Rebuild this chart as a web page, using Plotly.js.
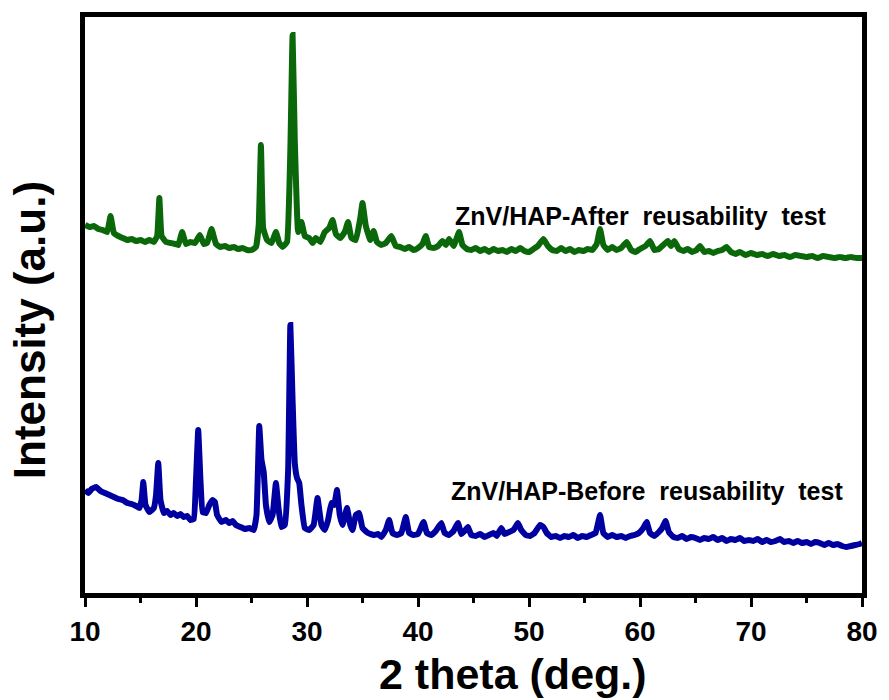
<!DOCTYPE html>
<html>
<head>
<meta charset="utf-8">
<script src="https://cdn.plot.ly/plotly-3.0.1.min.js"></script>
<style>html,body{margin:0;padding:0;background:#fff;}#chart{width:889px;height:700px;}</style>
</head>
<body>
<div id="chart"></div>
<script>
// 2-theta positions and intensities (a.u., offset-stacked)
const afterTheta = [10.0,10.4,10.8,11.2,11.6,12.0,12.3,12.6,13.0,13.4,13.8,14.2,14.6,15.0,15.4,15.8,16.2,16.5,16.7,16.9,17.3,17.7,18.1,18.4,18.75,19.1,19.5,19.9,20.35,20.7,21.0,21.4,21.8,22.2,22.6,23.0,23.4,23.8,24.2,24.6,25.0,25.4,25.65,25.85,26.05,26.4,26.8,27.2,27.5,27.8,28.2,28.5,28.7,28.9,29.2,29.5,29.8,30.2,30.5,30.8,31.2,31.6,32.0,32.3,32.6,33.0,33.4,33.7,34.0,34.4,34.8,35.0,35.3,35.7,36.0,36.3,36.7,37.1,37.6,38.0,38.4,38.8,39.2,39.6,40.0,40.4,40.7,41.0,41.4,41.8,42.2,42.5,42.8,43.2,43.7,44.0,44.4,44.8,45.2,45.6,46.0,46.4,46.8,47.2,47.6,48.0,48.4,48.8,49.2,49.6,50.0,50.4,50.8,51.3,51.7,52.1,52.5,52.9,53.3,53.7,54.1,54.5,54.9,55.3,55.7,56.1,56.4,56.7,57.1,57.5,57.9,58.3,58.8,59.2,59.6,60.0,60.5,60.9,61.3,61.7,62.1,62.5,62.8,63.1,63.5,63.9,64.3,64.7,65.1,65.4,65.8,66.2,66.6,67.0,67.4,67.8,68.2,68.6,69.0,69.5,70.0,70.5,71.0,71.5,72.0,72.5,73.0,73.5,74.0,74.5,75.0,75.5,76.0,76.5,77.0,77.5,78.0,78.5,79.0,79.5,80.0];
const afterIntensity = [375,373,374,371,370,368,384,367,364,362,360,361,359,360,358,360,358,364,402,364,358,357,356,355,368,356,358,357,365,356,357,371,356,353,354,352,353,351,352,350,350,353,375,455,372,360,357,368,357,353,358,450,565,460,368,378,364,362,357,362,358,368,372,380,366,362,368,378,362,360,382,397,374,360,369,358,355,357,364,354,353,351,353,350,352,356,364,353,352,354,359,355,361,354,368,355,351,350,352,349,351,348,351,349,350,348,351,349,352,349,348,351,354,361,354,350,349,352,349,351,348,350,349,351,350,356,371,355,350,353,350,352,358,350,348,351,354,359,350,351,355,359,354,359,351,349,351,348,350,354,348,349,347,349,350,353,348,346,348,345,347,345,346,344,346,344,345,343,345,344,343,344,342,344,343,342,343,342,343,342,342];

const beforeTheta = [10.0,10.3,10.6,11.0,11.4,11.8,12.2,12.6,13.0,13.4,13.8,14.2,14.6,14.9,15.1,15.25,15.45,15.8,16.2,16.4,16.6,16.8,17.1,17.4,17.7,18.0,18.3,18.6,18.9,19.2,19.5,19.8,20.0,20.2,20.4,20.6,20.9,21.2,21.5,21.7,21.9,22.3,22.7,23.0,23.3,23.6,24.0,24.4,24.8,25.2,25.45,25.7,25.9,26.1,26.3,26.6,26.9,27.2,27.45,27.7,28.0,28.3,28.5,28.7,28.9,29.1,29.3,29.5,29.8,30.2,30.6,30.95,31.3,31.6,31.9,32.2,32.45,32.7,32.95,33.2,33.6,33.9,34.1,34.4,34.7,35.0,35.5,36.0,36.4,36.7,37.1,37.4,37.7,38.1,38.5,38.9,39.2,39.6,40.0,40.5,40.8,41.2,41.6,42.1,42.4,42.8,43.2,43.6,43.9,44.2,44.5,44.8,45.2,45.6,46.0,46.4,46.8,47.1,47.5,47.8,48.2,48.6,49.0,49.3,49.7,50.1,50.5,51.0,51.3,51.6,52.0,52.4,52.8,53.2,53.6,54.0,54.4,54.8,55.2,55.6,56.0,56.4,56.7,57.1,57.5,57.9,58.3,58.7,59.1,59.5,59.9,60.3,60.6,60.9,61.3,61.7,62.0,62.3,62.6,63.0,63.4,63.8,64.2,64.6,65.0,65.4,65.8,66.2,66.6,67.0,67.4,67.8,68.2,68.6,69.0,69.4,69.8,70.2,70.6,71.0,71.4,71.8,72.2,72.6,73.0,73.4,73.8,74.2,74.6,75.0,75.4,75.8,76.2,76.6,77.0,77.4,77.8,78.2,78.6,79.0,79.4,79.8,80.0];
const beforeIntensity = [110,107,111,113,109,107,105,103,101,100,97,96,94,92,100,118,95,88,92,105,137,100,87,89,85,87,84,86,83,84,80,81,120,170,120,88,87,95,100,98,85,78,80,77,79,75,73,71,72,70,85,174,140,128,95,78,85,117,90,73,75,130,275,200,137,122,117,95,72,70,75,102,75,70,80,97,95,110,85,75,92,75,70,85,87,72,67,65,66,63,70,80,67,65,67,83,67,65,66,78,67,65,69,77,67,65,69,77,66,69,73,65,64,66,63,65,67,64,72,66,68,70,77,70,65,64,67,75,73,67,63,64,62,64,63,65,62,64,63,65,67,85,67,63,65,63,64,62,64,65,67,72,78,67,64,68,72,79,68,63,62,64,61,63,62,60,62,61,63,60,62,59,61,60,62,59,60,59,61,58,60,58,59,61,58,59,57,59,57,58,56,58,57,55,57,55,56,54,53,54,55,56,57];

const seriesNames = ['ZnV/HAP-After reusability test','ZnV/HAP-Before reusability test'];
const xTickVals = [10,20,30,40,50,60,70,80];
const xTickText = ['10','20','30','40','50','60','70','80'];

const green = '#0a680a';
const blue = '#0000a0';

const traces = [
  {x: afterTheta, y: afterIntensity, mode: 'lines', name: seriesNames[0],
   line: {color: green, width: 6, shape: 'spline', smoothing: 0.3}},
  {x: beforeTheta, y: beforeIntensity, mode: 'lines', name: seriesNames[1],
   line: {color: blue, width: 6, shape: 'spline', smoothing: 0.3}}
];

const bold = 'Arial, "Liberation Sans", sans-serif';

const layout = {
  width: 889, height: 700,
  margin: {l: 85, r: 27, t: 17, b: 107},
  paper_bgcolor: '#fff', plot_bgcolor: '#fff',
  showlegend: false,
  xaxis: {
    range: [10, 80], tickvals: xTickVals, ticktext: xTickText,
    showline: true, linecolor: '#000', linewidth: 5, mirror: true,
    ticks: 'outside', ticklen: 9, tickwidth: 3, tickcolor: '#000',
    minor: {dtick: 5, tick0: 5, ticks: 'outside', ticklen: 5, tickwidth: 3, tickcolor: '#000'},
    showgrid: false, zeroline: false,
    tickfont: {family: bold, size: 28, color: '#000', weight: 'bold'}
  },
  yaxis: {
    range: [7, 583], showticklabels: false, ticks: '',
    showline: true, linecolor: '#000', linewidth: 5, mirror: true,
    showgrid: false, zeroline: false
  },
  annotations: [
    {xref: 'x', yref: 'y', x: 43.15, y: 384, xanchor: 'left', yanchor: 'middle', showarrow: false,
     text: '<b>ZnV/HAP-After  reusability  test</b>', font: {family: bold, size: 25, color: '#000'}},
    {xref: 'x', yref: 'y', x: 42.8, y: 109, xanchor: 'left', yanchor: 'middle', showarrow: false,
     text: '<b>ZnV/HAP-Before  reusability  test</b>', font: {family: bold, size: 25, color: '#000'}},
    {xref: 'paper', yref: 'paper', x: 0.551, y: -0.14, xanchor: 'center', yanchor: 'middle', showarrow: false,
     text: '<b>2 theta (deg.)</b>', font: {family: bold, size: 43, color: '#000'}},
    {xref: 'paper', yref: 'paper', x: -0.071, y: 0.456, xanchor: 'center', yanchor: 'middle', showarrow: false,
     textangle: -90, text: '<b>Intensity (a.u.)</b>', font: {family: bold, size: 44, color: '#000'}}
  ]
};

Plotly.newPlot('chart', traces, layout, {staticPlot: true, displayModeBar: false});
</script>
</body>
</html>
